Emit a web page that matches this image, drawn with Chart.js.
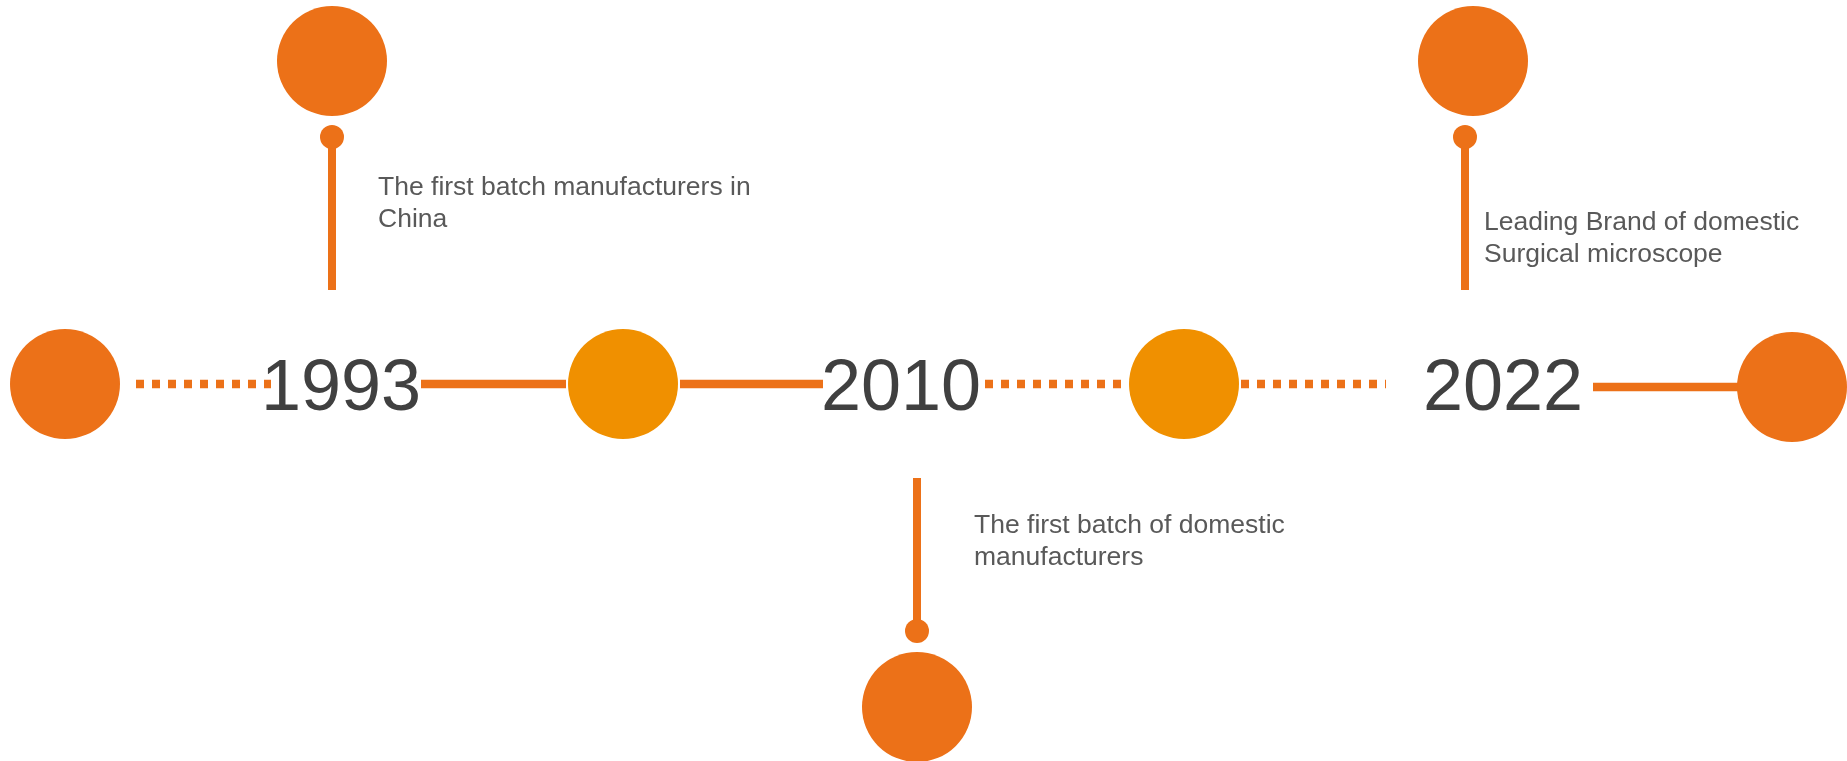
<!DOCTYPE html>
<html>
<head>
<meta charset="utf-8">
<script src="https://cdn.jsdelivr.net/npm/chart.js@4.4.1/dist/chart.umd.min.js"></script>
<style>
  html, body { margin: 0; padding: 0; background: #fff; }
  #wrap { width: 1847px; height: 761px; position: relative; }
</style>
</head>
<body>
<div id="wrap"><canvas id="timeline"></canvas></div>
<script>
// timeline data (x/y in diagram units, y grows downward)
const years = ["1993", "2010", "2022"];
const yearX = [341, 901, 1503];
const captions = [
    ["The first batch manufacturers in", "China"],
    ["The first batch of domestic", "manufacturers"],
    ["Leading Brand of domestic", "Surgical microscope"]
];
const captionX = [378, 974, 1484];
const captionY = [195, 533, 230];

const axisNodesX = [65, 623, 1184, 1792];
const axisNodesY = [384, 384, 384, 387];
const eventNodesX = [332, 917, 1473];
const eventNodesY = [61, 707, 61];
const stemX = [332, 917, 1465];
const stemFrom = [137, 631, 137];
const stemTo = [290, 478, 290];

const solidSegs = [[421, 566, 384, 384], [680, 823, 384, 384], [1593, 1739, 387, 387]];
const dottedSegs = [[136, 271], [985, 1121], [1241, 1386]];

const DARK = "#EC7118";
const AMBER = "#F09000";

function segPoints(segs) {
    const pts = [];
    segs.forEach(s => {
        pts.push({ x: s[0], y: s[2] === undefined ? 384 : s[2] });
        pts.push({ x: s[1], y: s[3] === undefined ? 384 : s[3] });
        pts.push({ x: s[1] + 1, y: null });
    });
    return pts;
}

const stemPoints = [];
stemX.forEach((x, i) => {
    stemPoints.push({ x: x, y: stemFrom[i] });
    stemPoints.push({ x: x, y: stemTo[i] });
    stemPoints.push({ x: x + 0.01, y: null });
});

const textPlugin = {
    id: "timelineText",
    afterDatasetsDraw(chart) {
        const ctx = chart.ctx;
        const xs = chart.scales.x, ys = chart.scales.y;
        ctx.save();
        ctx.font = "72px 'Liberation Sans', Arial, sans-serif";
        ctx.fillStyle = "#404040";
        ctx.textAlign = "center";
        ctx.textBaseline = "alphabetic";
        years.forEach((y, i) => {
            ctx.fillText(y, xs.getPixelForValue(yearX[i]), ys.getPixelForValue(384 + 26));
        });
        ctx.font = "26.5px 'Liberation Sans', Arial, sans-serif";
        ctx.fillStyle = "#595959";
        ctx.textAlign = "left";
        captions.forEach((lines, i) => {
            lines.forEach((line, j) => {
                ctx.fillText(line, xs.getPixelForValue(captionX[i]), ys.getPixelForValue(captionY[i] + j * 32));
            });
        });
        ctx.restore();
    }
};

const ctx = document.getElementById("timeline").getContext("2d");
new Chart(ctx, {
    type: "scatter",
    data: {
        datasets: [
            {
                label: "axis nodes",
                data: axisNodesX.map((x, i) => ({ x: x, y: axisNodesY[i] })),
                pointRadius: 55,
                pointHoverRadius: 55,
                pointBackgroundColor: [DARK, AMBER, AMBER, DARK],
                pointBorderWidth: 0,
                order: 1,
                clip: false
            },
            {
                label: "event nodes",
                data: eventNodesX.map((x, i) => ({ x: x, y: eventNodesY[i] })),
                pointRadius: 55,
                pointHoverRadius: 55,
                pointBackgroundColor: DARK,
                pointBorderWidth: 0,
                order: 1,
                clip: false
            },
            {
                label: "stem dots",
                data: stemX.map((x, i) => ({ x: x, y: stemFrom[i] })),
                pointRadius: 12,
                pointHoverRadius: 12,
                pointBackgroundColor: DARK,
                pointBorderWidth: 0,
                order: 2,
                clip: false
            },
            {
                label: "stems",
                type: "line",
                data: stemPoints,
                borderColor: DARK,
                borderWidth: 8,
                borderCapStyle: "butt",
                pointRadius: 0,
                spanGaps: false,
                order: 3
            },
            {
                label: "solid",
                type: "line",
                data: segPoints(solidSegs),
                borderColor: DARK,
                borderWidth: 8.5,
                borderCapStyle: "butt",
                pointRadius: 0,
                spanGaps: false,
                order: 3
            },
            {
                label: "dotted",
                type: "line",
                data: segPoints(dottedSegs),
                borderColor: DARK,
                borderWidth: 8.5,
                borderDash: [8, 8],
                borderCapStyle: "butt",
                pointRadius: 0,
                spanGaps: false,
                order: 3
            }
        ]
    },
    options: {
        responsive: true,
        maintainAspectRatio: false,
        animation: false,
        layout: { padding: 0, autoPadding: false },
        plugins: {
            legend: { display: false },
            tooltip: { enabled: false }
        },
        scales: {
            x: { type: "linear", display: false, min: 0, max: 1847 },
            y: { type: "linear", display: false, min: 0, max: 761, reverse: true }
        }
    },
    plugins: [textPlugin]
});
</script>
</body>
</html>
